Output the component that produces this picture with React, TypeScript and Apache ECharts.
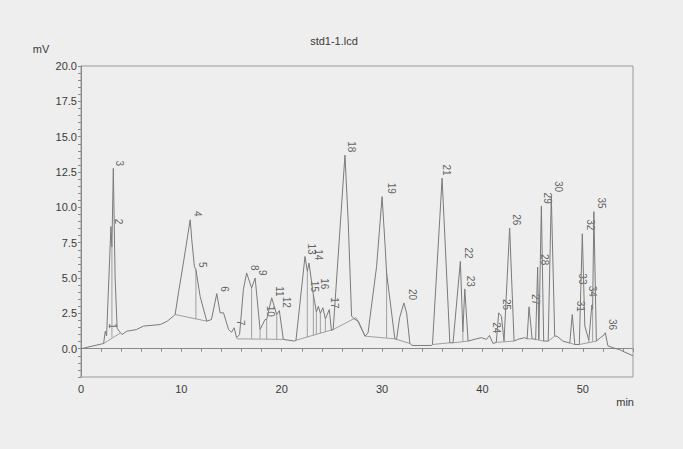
import React, { useEffect, useRef } from "react";
import * as echarts from "echarts";

// Chromatogram trace (retention time in min, signal in mV)
const time = [
  0, 1.1, 2.25, 2.42, 2.55, 2.98, 3.08, 3.22, 3.4, 3.6, 3.8, 4.08, 4.57, 5.5, 6.23, 7.9, 8.6, 9.2, 9.38,
  9.71, 10.2, 10.88, 11.04, 11.3, 11.45, 11.87, 12.53, 13.0, 13.53, 13.86, 14.2, 14.7, 15.0, 15.26, 15.5,
  15.8, 16.18, 16.5, 17.0, 17.35, 17.84, 18.34, 18.5, 19.0, 19.5, 19.76, 20.16, 21.3, 21.42, 22.32, 22.55,
  22.72, 23.15, 23.31, 23.45, 23.65, 23.85, 24.1, 24.35, 24.55, 24.74, 24.95, 25.13, 26.3, 26.63, 26.96,
  27.3, 27.63, 28.3, 28.6, 29.45, 30.0, 30.3, 30.45, 31.27, 31.44, 31.75, 32.17, 32.45, 32.77, 33.0, 34.9,
  35.02, 35.98, 36.75, 37.07, 37.8, 38.05, 38.24, 38.57, 39.4, 39.9, 40.4, 40.7, 41.05, 41.38, 41.62, 41.89,
  42.15, 42.71, 43.15, 43.5, 44.2, 44.45, 44.64, 44.95, 45.3, 45.5, 45.62, 45.87, 46.1, 46.55, 46.86, 47.2,
  47.43, 48.0, 48.7, 48.95, 49.2, 49.65, 49.95, 50.2, 50.6, 50.9, 50.98, 51.1, 51.35, 51.75, 52.0, 52.24,
  52.5, 53.0, 53.6, 54.3, 55.0,
];
const signal = [
  0.0, 0.18, 0.37, 1.24, 0.9, 8.65, 7.2, 12.76, 5.0, 1.45, 1.25, 1.0, 1.24, 1.35, 1.6, 1.71, 1.95, 2.3, 2.42,
  3.95, 6.06, 9.12, 7.7, 5.8, 5.6, 3.7, 1.95, 2.07, 3.9, 2.54, 2.54, 1.36, 1.17, 1.48, 0.78,
  1.0, 4.18, 5.36, 4.3, 5.0, 1.36, 2.07, 2.07, 3.6, 2.42, 2.7, 0.66, 0.54, 0.6, 6.53, 5.47,
  6.06, 3.83, 3.2, 2.6, 3.0, 2.5, 2.9, 2.1, 2.45, 2.77, 1.3, 1.36, 13.7, 8.9, 2.3,
  2.07, 1.95, 0.89, 1.13, 5.8, 10.76, 7.3, 5.36, 0.7, 0.66, 2.2, 3.24, 2.5, 0.37, 0.23, 0.23,
  0.3, 12.06, 0.42, 0.42, 6.18, 1.2, 4.23, 0.54, 0.7, 0.78, 0.66, 0.94, 0.37, 0.45, 2.54, 2.3,
  0.54, 8.53, 0.54, 0.66, 0.78, 0.7, 2.96, 0.7, 0.66, 5.78, 0.66, 10.1, 0.54, 0.54, 10.81, 0.89,
  0.89, 0.54, 0.4, 2.42, 0.3, 0.3, 8.13, 1.6, 0.6, 3.1, 2.8, 9.7, 0.54, 0.78, 0.9, 1.13,
  0.2, 0.07, -0.05, -0.28, -0.5,
];

// Integration baselines and drop lines: [startTime, startMv, endTime, endMv]
const baselineSegments: number[][] = [
  [2.25, 0.37, 3.9, 1.1],
  [3.08, 7.2, 3.08, 0.8],
  [9.38, 2.42, 12.53, 1.95],
  [11.45, 5.6, 11.45, 2.1],
  [15.5, 0.7, 20.16, 0.66],
  [17.0, 4.3, 17.0, 0.7],
  [17.84, 1.36, 17.84, 0.7],
  [18.5, 2.07, 18.5, 0.69],
  [19.5, 2.42, 19.5, 0.68],
  [21.42, 0.6, 25.13, 1.36],
  [22.55, 5.47, 22.55, 0.83],
  [23.15, 3.83, 23.15, 0.95],
  [23.45, 2.6, 23.45, 1.02],
  [23.85, 2.5, 23.85, 1.1],
  [24.35, 2.1, 24.35, 1.2],
  [25.13, 1.36, 27.4, 2.2],
  [27.4, 2.2, 28.3, 0.89],
  [28.3, 0.89, 31.27, 0.7],
  [30.45, 5.36, 30.45, 0.78],
  [31.44, 0.66, 32.77, 0.37],
  [35.02, 0.3, 36.75, 0.42],
  [37.07, 0.42, 38.57, 0.54],
  [38.05, 1.2, 38.05, 0.49],
  [41.38, 0.45, 43.15, 0.54],
  [44.45, 0.7, 44.95, 0.7],
  [45.3, 0.66, 46.1, 0.54],
  [45.62, 0.66, 45.62, 0.6],
  [46.55, 0.54, 47.2, 0.89],
  [48.7, 0.4, 49.2, 0.3],
  [49.65, 0.3, 51.35, 0.54],
  [50.6, 0.6, 50.6, 0.45],
  [50.98, 2.8, 50.98, 0.5],
];

// Peak numbers and where their labels sit (min, mV)
const peakIds = [
  "1", "2", "3", "4", "5", "6", "7", "8", "9", "10", "11", "12", "13", "14", "15", "16", "17", "18",
  "19", "20", "21", "22", "23", "24", "25", "26", "27", "28", "29", "30", "31", "32", "33", "34", "35", "36",
];
const peakLabelTime = [
  3.14, 3.74, 3.84, 11.64, 12.14, 14.26, 15.92, 17.25, 18.11, 18.9, 19.76, 20.5, 22.99, 23.64, 23.31, 24.31,
  25.3, 26.97, 30.95, 33.0, 36.42, 38.57, 38.84, 41.39, 42.39, 43.38, 45.3, 46.2, 46.53, 47.62, 49.75, 50.78,
  49.95, 51.0, 51.84, 53.0,
];
const peakLabelHeight = [
  1.6, 9.0, 13.12, 9.54, 5.94, 4.23, 1.83, 5.73, 5.38, 2.65, 4.06, 3.29, 7.05, 6.65, 4.41, 4.6,
  3.24, 14.29, 11.35, 3.83, 12.64, 6.77, 4.77, 1.48, 3.12, 9.12, 3.48, 6.3, 10.65, 11.47, 3.0, 8.77,
  4.94, 4.06, 10.3, 1.71,
];

const chartTitle = "std1-1.lcd";
const yUnit = "mV";
const xUnit = "min";

const FONT = "'Liberation Sans', Arial, sans-serif";
const TEXT = "#3a3a3a";
const LINE = "#7a7a7a";

export default function App() {
  const ref = useRef<HTMLDivElement>(null);
  useEffect(() => {
    const chart = echarts.init(ref.current!, null, { renderer: "svg" });
    const baselineData: (number[] | null)[] = [];
    baselineSegments.forEach((s) => {
      baselineData.push([s[0], s[1]], [s[2], s[3]], null as any);
    });
    chart.setOption({
      animation: false,
      backgroundColor: "#eeeeee",
      textStyle: { fontFamily: FONT },
      grid: {
        left: 81,
        right: 50,
        top: 66,
        bottom: 72,
        show: true,
        borderColor: "#9a9a9a",
        borderWidth: 1,
        backgroundColor: "transparent",
      },
      xAxis: {
        type: "value",
        min: 0,
        max: 55,
        interval: 2,
        splitLine: { show: false },
        axisLine: { lineStyle: { color: "#8a8a8a", width: 1 } },
        axisTick: { length: 3, lineStyle: { color: "#8a8a8a" } },
        axisLabel: {
          margin: 6,
          color: TEXT,
          fontSize: 11,
          fontFamily: FONT,
          formatter: (v: number) => (Math.abs(v % 10) < 1e-6 ? String(v) : ""),
        },
      },
      yAxis: {
        type: "value",
        min: -2,
        max: 20,
        interval: 0.5,
        splitLine: { show: false },
        axisLine: { lineStyle: { color: "#8a8a8a", width: 1 } },
        axisTick: { length: 3, lineStyle: { color: "#8a8a8a" } },
        axisLabel: {
          margin: 4,
          color: TEXT,
          fontSize: 11,
          fontFamily: FONT,
          formatter: (v: number) => {
            const r = v / 2.5;
            return Math.abs(r - Math.round(r)) < 1e-6 ? v.toFixed(1) : "";
          },
        },
      },
      graphic: [
        {
          type: "text",
          x: 334,
          y: 41,
          style: { text: chartTitle, textAlign: "center", textVerticalAlign: "middle", fontSize: 11, fill: TEXT, fontFamily: FONT },
        },
        {
          type: "text",
          x: 41,
          y: 49,
          style: { text: yUnit, textAlign: "center", textVerticalAlign: "middle", fontSize: 11, fill: TEXT, fontFamily: FONT },
        },
        {
          type: "text",
          x: 634,
          y: 402,
          style: { text: xUnit, textAlign: "right", textVerticalAlign: "middle", fontSize: 11, fill: TEXT, fontFamily: FONT },
        },
      ],
      series: [
        {
          type: "line",
          data: baselineData,
          connectNulls: false,
          symbol: "none",
          silent: true,
          lineStyle: { color: "#8c8c8c", width: 0.8 },
        },
        {
          type: "line",
          data: time.map((t, i) => [t, signal[i]]),
          symbol: "none",
          silent: true,
          lineStyle: { color: LINE, width: 1 },
        },
        {
          type: "scatter",
          data: peakIds.map((id, i) => ({ name: id, value: [peakLabelTime[i], peakLabelHeight[i]] })),
          symbolSize: 1,
          itemStyle: { color: "rgba(0,0,0,0)" },
          silent: true,
          label: {
            show: true,
            position: "inside",
            formatter: "{b}",
            rotate: -90,
            fontSize: 10,
            color: TEXT,
            fontFamily: FONT,
          },
        },
      ],
    });
    return () => chart.dispose();
  }, []);
  return (
    <div
      ref={ref}
      style={{ position: "fixed", left: 0, top: 0, width: 683, height: 449, background: "#eeeeee" }}
    />
  );
}
